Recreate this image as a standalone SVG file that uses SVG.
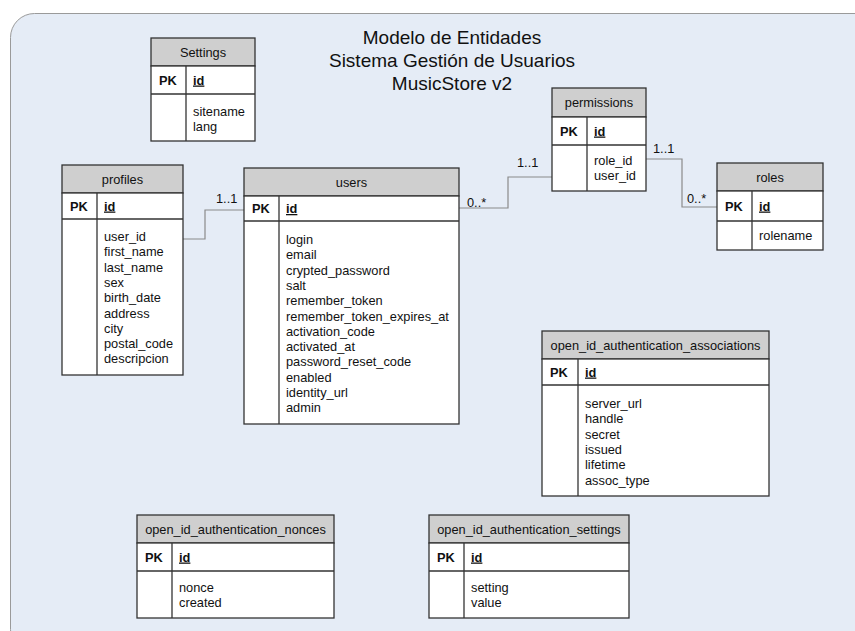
<svg xmlns="http://www.w3.org/2000/svg" width="855" height="631" viewBox="0 0 855 631">
<style>
text{font-family:"Liberation Sans",Arial,sans-serif;fill:#111;}
.t{font-size:19px;text-anchor:middle;}
.h{font-size:12.8px;text-anchor:middle;}
.f{font-size:12.8px;}
.pk{font-size:12.8px;font-weight:bold;}
.id{font-size:12.8px;font-weight:bold;text-decoration:underline;}
.lbl{font-size:12.8px;}
.hd{fill:#cfcfcf;stroke:#333;stroke-width:1.3;}
.bd{fill:#fff;stroke:#333;stroke-width:1.3;}
.ln{stroke:#333;stroke-width:1.3;fill:none;}
.cn{stroke:#8a8a8a;stroke-width:1.2;fill:none;}
</style>
<rect x="10.5" y="13.5" width="900" height="640" rx="24" fill="#e5ecf6" stroke="#9a9a9a" stroke-width="1"/>
<g id="title">
<text class="t" x="452" y="44">Modelo de Entidades</text>
<text class="t" x="452" y="67">Sistema Gestión de Usuarios</text>
<text class="t" x="452" y="90">MusicStore v2</text>
</g>
<g id="connectors">
<polyline class="cn" points="183,239 205,239 205,210 244,210"/>
<polyline class="cn" points="459,208 508,208 508,177 552,177"/>
<polyline class="cn" points="646,159 682,159 682,207 717,207"/>
<text class="lbl" x="216" y="203">1..1</text>
<text class="lbl" x="467" y="207">0..*</text>
<text class="lbl" x="517" y="167">1..1</text>
<text class="lbl" x="653" y="153">1..1</text>
<text class="lbl" x="687" y="203">0..*</text>
</g>
<g id="Settings">
<rect class="hd" x="151" y="38" width="104" height="28"/>
<rect class="bd" x="151" y="66" width="104" height="75"/>
<line class="ln" x1="151" y1="94" x2="255" y2="94"/>
<line class="ln" x1="186" y1="66" x2="186" y2="141"/>
<text class="h" x="203" y="56.5">Settings</text>
<text class="pk" x="159" y="84.5">PK</text>
<text class="id" x="193" y="84.5">id</text>
<text class="f" x="193" y="116">sitename</text>
<text class="f" x="193" y="131.3">lang</text>
</g>
<g id="profiles">
<rect class="hd" x="62" y="165" width="121" height="28"/>
<rect class="bd" x="62" y="193" width="121" height="182"/>
<line class="ln" x1="62" y1="219" x2="183" y2="219"/>
<line class="ln" x1="97" y1="193" x2="97" y2="375"/>
<text class="h" x="122.5" y="183.5">profiles</text>
<text class="pk" x="70" y="210.5">PK</text>
<text class="id" x="104" y="210.5">id</text>
<text class="f" x="104" y="241">user_id</text>
<text class="f" x="104" y="256.3">first_name</text>
<text class="f" x="104" y="271.6">last_name</text>
<text class="f" x="104" y="286.9">sex</text>
<text class="f" x="104" y="302.2">birth_date</text>
<text class="f" x="104" y="317.5">address</text>
<text class="f" x="104" y="332.8">city</text>
<text class="f" x="104" y="348.1">postal_code</text>
<text class="f" x="104" y="363.4">descripcion</text>
</g>
<g id="users">
<rect class="hd" x="244" y="168" width="215" height="28"/>
<rect class="bd" x="244" y="196" width="215" height="228"/>
<line class="ln" x1="244" y1="221" x2="459" y2="221"/>
<line class="ln" x1="279" y1="196" x2="279" y2="424"/>
<text class="h" x="351.5" y="186.5">users</text>
<text class="pk" x="252" y="213">PK</text>
<text class="id" x="286" y="213">id</text>
<text class="f" x="286" y="244">login</text>
<text class="f" x="286" y="259.3">email</text>
<text class="f" x="286" y="274.6">crypted_password</text>
<text class="f" x="286" y="289.9">salt</text>
<text class="f" x="286" y="305.2">remember_token</text>
<text class="f" x="286" y="320.5">remember_token_expires_at</text>
<text class="f" x="286" y="335.8">activation_code</text>
<text class="f" x="286" y="351.1">activated_at</text>
<text class="f" x="286" y="366.4">password_reset_code</text>
<text class="f" x="286" y="381.7">enabled</text>
<text class="f" x="286" y="397">identity_url</text>
<text class="f" x="286" y="412.3">admin</text>
</g>
<g id="permissions">
<rect class="hd" x="552" y="88" width="94" height="29"/>
<rect class="bd" x="552" y="117" width="94" height="74"/>
<line class="ln" x1="552" y1="145" x2="646" y2="145"/>
<line class="ln" x1="587" y1="117" x2="587" y2="191"/>
<text class="h" x="599" y="107">permissions</text>
<text class="pk" x="560" y="135.5">PK</text>
<text class="id" x="594" y="135.5">id</text>
<text class="f" x="594" y="165">role_id</text>
<text class="f" x="594" y="180.3">user_id</text>
</g>
<g id="roles">
<rect class="hd" x="717" y="163" width="106" height="28"/>
<rect class="bd" x="717" y="191" width="106" height="59"/>
<line class="ln" x1="717" y1="221" x2="823" y2="221"/>
<line class="ln" x1="752" y1="191" x2="752" y2="250"/>
<text class="h" x="770" y="181.5">roles</text>
<text class="pk" x="725" y="210.5">PK</text>
<text class="id" x="759" y="210.5">id</text>
<text class="f" x="759" y="240">rolename</text>
</g>
<g id="open_id_authentication_associations">
<rect class="hd" x="542" y="331" width="227" height="28"/>
<rect class="bd" x="542" y="359" width="227" height="137"/>
<line class="ln" x1="542" y1="385" x2="769" y2="385"/>
<line class="ln" x1="578" y1="359" x2="578" y2="496"/>
<text class="h" x="655.5" y="349.5">open_id_authentication_associations</text>
<text class="pk" x="550" y="376.5">PK</text>
<text class="id" x="585" y="376.5">id</text>
<text class="f" x="585" y="408">server_url</text>
<text class="f" x="585" y="423.3">handle</text>
<text class="f" x="585" y="438.6">secret</text>
<text class="f" x="585" y="453.9">issued</text>
<text class="f" x="585" y="469.2">lifetime</text>
<text class="f" x="585" y="484.5">assoc_type</text>
</g>
<g id="open_id_authentication_nonces">
<rect class="hd" x="137" y="515" width="197" height="28"/>
<rect class="bd" x="137" y="543" width="197" height="75"/>
<line class="ln" x1="137" y1="571" x2="334" y2="571"/>
<line class="ln" x1="172" y1="543" x2="172" y2="618"/>
<text class="h" x="235.5" y="533.5">open_id_authentication_nonces</text>
<text class="pk" x="145" y="561.5">PK</text>
<text class="id" x="179" y="561.5">id</text>
<text class="f" x="179" y="592">nonce</text>
<text class="f" x="179" y="607.3">created</text>
</g>
<g id="open_id_authentication_settings">
<rect class="hd" x="429" y="515" width="200" height="28"/>
<rect class="bd" x="429" y="543" width="200" height="75"/>
<line class="ln" x1="429" y1="571" x2="629" y2="571"/>
<line class="ln" x1="464" y1="543" x2="464" y2="618"/>
<text class="h" x="529" y="533.5">open_id_authentication_settings</text>
<text class="pk" x="437" y="561.5">PK</text>
<text class="id" x="471" y="561.5">id</text>
<text class="f" x="471" y="592">setting</text>
<text class="f" x="471" y="607.3">value</text>
</g>
</svg>
